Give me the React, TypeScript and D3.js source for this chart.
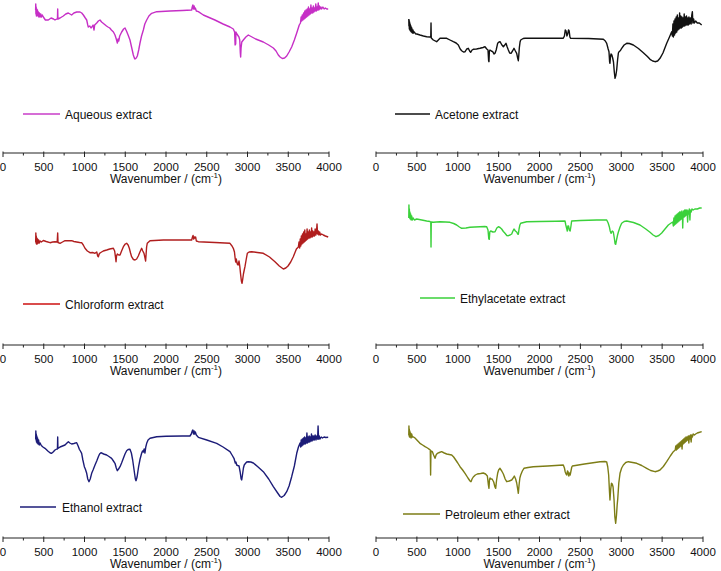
import React from "react";
import * as d3 from "d3";

// ---------- data ----------
const WAVENUMBER_TICKS = [0, 500, 1000, 1500, 2000, 2500, 3000, 3500, 4000];
const MINOR_TICKS = [250, 750, 1250, 1750, 2250, 2750, 3250, 3750];
const AXIS_TITLE = "Wavenumber / (cm";
const SERIES_NAMES = [
  "Aqueous extract",
  "Acetone extract",
  "Chloroform extract",
  "Ethylacetate extract",
  "Ethanol extract",
  "Petroleum ether extract",
];

// [wavenumber (cm-1), transmittance (a.u.)]
const aqueous: [number, number][] = [[400,140],[402,146],[404,136],[407,143],[410,134],[414,141],[418,135],[423,140],[428,134],[434,138],[440,133],[447,137],[455,133],[463,136],[472,133],[482,135],[495,133],[520,130],[556,130],[590,132],[620,131],[638,130],[660,131],[668,131],[671,141],[674,131],[700,132],[740,134],[770,136],[801,137],[842,135],[870,137],[904,138],[945,138],[966,137],[986,135],[1010,132],[1027,130],[1040,125],[1047,123],[1065,124],[1080,122],[1090,123],[1105,125],[1117,120],[1125,125],[1150,127],[1170,129],[1190,130],[1210,128],[1240,126],[1270,124],[1288,123],[1310,122],[1330,120],[1355,118],[1374,115],[1390,111],[1403,107],[1412,111],[1420,109],[1432,114],[1456,118],[1480,121],[1497,122],[1515,119],[1535,115],[1558,110],[1580,102],[1599,95],[1612,92],[1620,91],[1635,92],[1648,94],[1665,100],[1681,107],[1700,114],[1722,120],[1740,126],[1763,130],[1790,134],[1824,136.7],[1886,138.3],[2049,139],[2200,139.5],[2315,140],[2322,143],[2330,145],[2337,141],[2345,144],[2352,141],[2360,142],[2372,139],[2397,138.3],[2458,135],[2600,130],[2700,126],[2785,123],[2826,121],[2842,118],[2848,105],[2855,106],[2858,118],[2870,116],[2895,113],[2905,110],[2912,97],[2916,93],[2921,102],[2930,108],[2949,110],[2980,113],[3010,115],[3100,111],[3194,108],[3260,105],[3317,102],[3350,99],[3378,95],[3400,93],[3427,91.5],[3455,92],[3481,94],[3510,98],[3542,103],[3575,110],[3604,117],[3635,125],[3650,127],[3658,133],[3665,129],[3672,135],[3680,130],[3688,137],[3695,131],[3703,139],[3710,132],[3718,140],[3725,133],[3733,141],[3740,134],[3748,143],[3755,135],[3763,141],[3770,136],[3778,145],[3785,137],[3793,142],[3800,137],[3808,144],[3815,138],[3823,142],[3830,139],[3838,146],[3845,139],[3853,143],[3860,140],[3868,147],[3875,140],[3882,144],[3890,141],[3900,143],[3910,141],[3925,143],[3940,141],[3955,142],[3972,141],[3990,141]];

const acetone: [number, number][] = [[401,131],[403,124],[405,130],[408,121],[411,128],[414,120],[418,126],[422,119],[427,124],[432,118],[438,122],[445,117],[452,120],[460,117],[470,118],[485,116],[500,116],[538,115],[580,114],[620,113.3],[660,113],[670,113],[673,127],[676,112],[701,110],[742,108.3],[783,111.7],[825,111.7],[865,111.7],[905,110],[946,108.3],[980,107],[1007,105],[1030,101],[1048,99.3],[1070,98],[1090,98.3],[1110,101],[1129,101.7],[1145,99],[1158,97.7],[1175,100],[1190,100.7],[1230,101],[1272,101.7],[1310,102.5],[1333,103.3],[1355,101],[1370,100],[1378,89],[1382,88.3],[1387,99],[1394,100],[1410,99],[1427,98.3],[1445,96],[1456,96.7],[1470,100],[1488,106.7],[1505,108],[1517,108.3],[1540,105],[1558,103.3],[1575,105],[1590,106.7],[1605,103],[1619,100],[1635,97],[1652,96.7],[1670,99],[1688,101.7],[1705,99],[1721,96.7],[1733,92],[1741,89.3],[1747,95],[1753,102],[1762,108],[1770,110],[1800,111.5],[1823,111.7],[2000,111.7],[2291,111.7],[2305,114],[2315,120],[2325,119],[2335,114],[2345,116],[2355,120],[2363,119],[2372,113],[2381,111.7],[2600,111.5],[2781,110.7],[2805,109],[2822,106.7],[2840,101],[2850,98.3],[2858,88],[2862,86.7],[2868,93],[2875,96],[2885,95],[2895,92],[2905,88],[2915,78],[2924,71.7],[2935,75],[2944,80],[2955,90],[2965,97],[2973,98.3],[2990,99.5],[3005,101.7],[3035,105],[3067,106.7],[3100,106.5],[3148,105],[3210,101.5],[3270,97.3],[3320,93.5],[3352,90.7],[3385,89],[3413,88.3],[3445,89],[3474,91.7],[3510,97],[3556,106.7],[3590,113],[3617,118.3],[3625,114],[3632,126],[3638,113],[3645,129],[3652,115],[3658,131],[3665,117],[3672,133],[3679,118],[3686,135],[3693,120],[3700,132],[3707,121],[3714,137],[3721,122],[3728,134],[3735,122],[3742,133],[3749,123],[3756,132],[3763,124],[3770,136],[3777,124],[3784,133],[3791,125],[3798,134],[3805,125],[3812,132],[3820,125],[3828,133],[3836,126],[3845,132],[3855,126],[3863,135],[3870,138.3],[3876,127],[3885,131],[3895,127],[3910,129],[3930,127],[3955,127],[3984,125]];

const chloroform: [number, number][] = [[401,100],[403,109],[405,99],[408,106],[411,98],[415,104],[419,98],[424,103],[430,99],[437,102],[445,99],[455,101],[470,100],[495,101.5],[530,100.5],[577,99.3],[610,100],[638,100.3],[665,100],[671,109],[675,99.5],[700,98.7],[730,100],[761,101.3],[800,101.3],[843,101.3],[870,100.5],[904,100],[940,99.5],[965,99.3],[985,97],[1006,93.7],[1035,91],[1067,89.3],[1100,89.5],[1129,88.7],[1150,90],[1162,86],[1170,85.3],[1180,88],[1190,89],[1230,91],[1272,92],[1310,93],[1354,93.7],[1370,91],[1380,85],[1387,80.3],[1393,86],[1403,88],[1420,87],[1436,87],[1455,91],[1477,95.3],[1500,98],[1517,98.7],[1535,97],[1550,93.7],[1565,89],[1578,85.3],[1600,82.5],[1620,82],[1640,83],[1660,86],[1680,90],[1701,93.7],[1715,91],[1730,88.7],[1740,85],[1750,81],[1756,88],[1762,95],[1770,98.7],[1804,101.3],[1967,102],[2200,102],[2315,102],[2325,105],[2332,106.5],[2340,103],[2348,105],[2356,104],[2364,105],[2372,101],[2397,100.3],[2600,99.5],[2785,98.7],[2810,96],[2826,93.7],[2840,90],[2848,84],[2855,80],[2862,83],[2875,78],[2885,77],[2896,81],[2905,76],[2915,68],[2925,61],[2933,58.7],[2940,62],[2950,68],[2960,72],[2969,75.3],[2985,83],[2998,88.7],[3020,90],[3051,90.3],[3120,89.5],[3194,88.7],[3270,85],[3337,80.3],[3390,76],[3440,73],[3470,74],[3497,76],[3530,80],[3562,85.3],[3600,93],[3624,95],[3632,100],[3640,94],[3647,103],[3654,96],[3661,106],[3668,98],[3675,108],[3682,99],[3689,110],[3696,100],[3703,112],[3710,101],[3717,108],[3724,102],[3731,113],[3738,103],[3745,110],[3752,104],[3759,112],[3766,104],[3773,110],[3780,105],[3787,114],[3794,105],[3801,111],[3808,106],[3815,110],[3822,106],[3830,113],[3838,107],[3846,110],[3853,118],[3860,108],[3868,111],[3876,107],[3885,110],[3895,107],[3910,108],[3930,107],[3955,106],[3990,105]];

const ethylacetate: [number, number][] = [[401,124],[403,137],[405,126],[408,133],[411,124],[415,130],[419,123],[424,128],[430,122],[437,126],[445,122],[455,124],[470,122],[498,123],[560,122],[620,121],[660,120.5],[670,120],[673,95],[676,120],[701,119.7],[740,120],[783,120.3],[850,120],[905,119.7],[950,118.5],[987,117],[1020,115],[1048,113.7],[1100,114],[1150,114.7],[1210,115],[1272,115.3],[1330,115.5],[1354,115.3],[1370,112],[1380,103],[1386,102.7],[1392,110],[1403,111],[1430,110],[1456,110.3],[1478,114],[1497,115.3],[1517,114.5],[1537,113],[1558,110.5],[1578,108.7],[1600,106.5],[1619,106.3],[1640,107],[1660,108],[1675,111],[1688,113],[1705,111],[1721,110],[1733,108],[1741,107.7],[1750,113],[1760,117],[1770,118.7],[1843,120.3],[2000,120.5],[2200,120.8],[2312,121],[2322,117],[2332,113.7],[2340,111],[2347,116],[2355,116],[2365,112],[2375,111],[2385,116],[2393,121],[2500,121.5],[2700,122],[2822,122],[2840,119],[2854,115.3],[2865,111],[2875,108.7],[2890,111],[2903,110],[2915,104],[2925,98],[2932,97.7],[2942,102],[2955,107],[2965,110],[2985,115],[3005,118.7],[3035,120.5],[3067,121],[3150,119.5],[3229,117],[3300,113],[3352,109.7],[3390,107],[3425,105.3],[3460,106.5],[3495,109],[3535,113],[3576,117],[3610,119],[3630,120],[3637,116],[3644,124],[3651,117],[3658,126],[3665,118],[3672,127],[3679,119],[3686,128],[3693,120],[3700,129],[3707,121],[3714,130],[3721,122],[3728,130],[3735,123],[3742,131],[3749,124],[3752,114],[3756,126],[3763,131],[3770,125],[3777,132],[3784,126],[3791,132],[3798,127],[3805,132],[3812,120],[3818,131],[3825,128],[3832,133],[3840,122],[3846,132],[3855,130],[3865,133],[3880,132],[3900,133],[3930,133],[3960,134],[3984,134]];

const ethanol: [number, number][] = [[401,96],[403,104],[405,95],[408,101],[411,93],[415,99],[419,92],[424,97],[430,91],[437,95],[445,90],[455,92],[470,89.5],[490,88],[515,86.7],[550,84],[580,82],[597,81.7],[615,83],[638,85],[660,86],[668,86],[671,98],[674,86.5],[700,88],[730,89],[761,90],[785,92],[802,93.3],[820,92],[843,91],[870,91.5],[904,92.3],[922,89],[937,85.7],[950,84],[965,81.7],[980,75],[998,68.3],[1010,66],[1027,61.7],[1040,56],[1055,53.3],[1070,56],[1088,61.7],[1105,65],[1129,70],[1150,74],[1170,78.3],[1185,81],[1202,82.3],[1235,81],[1272,80],[1300,78.5],[1333,76.7],[1355,74],[1374,71.7],[1390,67],[1403,64.3],[1418,66],[1436,68.3],[1455,72],[1477,76.7],[1497,81],[1517,84.3],[1535,85.5],[1558,85.7],[1575,82],[1591,75],[1610,64],[1624,56],[1632,54.3],[1645,58],[1664,68.3],[1682,76],[1701,81.7],[1712,84],[1722,83],[1732,86],[1742,82],[1752,88],[1763,91.7],[1780,95],[1804,96.7],[1886,98.3],[2000,98.7],[2200,99],[2294,99],[2310,101],[2322,104],[2330,105],[2337,101],[2345,104],[2352,101],[2360,103],[2372,100],[2397,97.7],[2500,95],[2622,91.7],[2700,88],[2785,83.3],[2810,80],[2834,76.7],[2850,72],[2858,73],[2867,70],[2880,69.5],[2896,69],[2910,63],[2922,56],[2929,55],[2938,60],[2950,67],[2960,70],[2969,71],[2990,73],[3010,73.3],[3040,73],[3072,72],[3130,68],[3194,63.3],[3260,56],[3317,48.3],[3370,42],[3400,38.5],[3419,37.7],[3450,39.5],[3481,43.3],[3510,49],[3542,58.3],[3575,69],[3604,81.7],[3625,88],[3645,92],[3652,88],[3659,95],[3666,89],[3673,96],[3680,90],[3687,97],[3694,91],[3701,98],[3708,91],[3715,97],[3722,92],[3729,102],[3736,92],[3743,98],[3750,93],[3757,99],[3764,93],[3771,98],[3778,94],[3785,101],[3792,94],[3799,99],[3806,95],[3813,99],[3820,95],[3830,100],[3840,95],[3850,99],[3860,96],[3866,109],[3872,96],[3880,99],[3890,96],[3905,98],[3920,97],[3940,98],[3960,97.5],[3990,97.7]];

const petroleum: [number, number][] = [[401,100],[403,109],[405,99],[407,106],[410,98],[414,104],[418,98],[423,102],[429,97],[436,101],[445,98],[460,98],[477,97],[500,95],[538,91.7],[570,90],[600,88.3],[630,87],[653,85.7],[664,85],[668,60],[672,84],[690,83.3],[705,80],[722,76.7],[735,80],[750,81.7],[775,82.5],[803,83.3],[835,82],[865,81],[895,80.5],[926,80],[950,78],[967,76],[1000,72],[1028,68.3],[1060,65],[1089,61.7],[1125,57],[1150,54],[1162,53.3],[1175,56],[1190,58],[1215,60],[1239,61],[1280,61.5],[1312,62],[1340,61],[1362,59],[1375,50],[1382,46.7],[1388,55],[1395,57],[1403,56],[1420,56],[1440,53],[1455,48],[1464,46.7],[1475,55],[1488,61.7],[1500,65],[1517,66.7],[1538,64],[1558,61],[1580,56],[1599,53.3],[1630,54],[1660,55],[1678,57],[1692,59],[1708,56],[1721,52],[1733,46],[1741,41.7],[1750,50],[1760,57],[1770,60],[1790,64],[1810,66.7],[1860,67.5],[1924,68.3],[2100,69],[2291,70],[2305,67],[2315,63],[2325,61],[2335,60],[2342,64],[2350,63],[2358,59],[2365,62],[2375,60],[2385,64],[2395,68],[2402,69],[2550,71],[2740,73.3],[2800,73.5],[2822,73],[2835,68],[2846,60],[2855,45],[2862,35],[2870,45],[2880,51.7],[2890,51],[2900,48],[2912,35],[2922,18],[2932,11.7],[2942,20],[2950,30],[2957,36],[2970,52],[2985,61.7],[3005,67],[3026,70],[3055,72.5],[3087,73.3],[3140,72.5],[3189,71.7],[3250,69.5],[3311,66.7],[3360,64.5],[3413,63.3],[3445,64],[3474,65],[3515,68.5],[3556,73.3],[3600,79],[3637,83.3],[3660,85],[3667,89],[3674,85],[3681,90],[3688,86],[3695,91],[3702,87],[3709,92],[3716,88],[3723,93],[3730,89],[3737,94],[3744,86],[3750,95],[3757,91],[3764,96],[3771,92],[3778,97],[3785,93],[3792,98],[3799,94],[3806,98],[3813,95],[3820,99],[3827,92],[3833,99],[3840,96],[3847,100],[3855,93],[3862,100],[3870,98],[3880,101],[3895,100],[3910,101],[3930,102],[3950,102.5],[3984,103.3]];

const SERIES = [aqueous, acetone, chloroform, ethylacetate, ethanol, petroleum];
const COLORS = ["#c62fc6", "#111111", "#b01e1e", "#3ad13a", "#1c1c78", "#7d7d16"];
const LEGEND_COLORS = ["#c83cc8", "#111111", "#cc1111", "#3ad13a", "#1c1c78", "#7d7d16"];

// ---------- layout ----------
const W = 721;
const H = 571;
const COL_X: [number, number][] = [[3, 329], [376, 703]];
const AXIS_Y = [153, 345, 538];
// legend: [lineStart, lineEnd, y, textX]
const LEGEND_POS: [number, number, number, number][] = [
  [23, 60, 114, 65],
  [395, 430, 114, 435],
  [23, 60, 304, 65],
  [420, 455, 298, 460],
  [20, 56, 507, 62],
  [403, 440, 514, 445],
];

const FONT = "Arial, 'Liberation Sans', Helvetica, sans-serif";

function Panel({ idx }: { idx: number }) {
  const col = idx % 2;
  const row = Math.floor(idx / 2);
  const axisY = AXIS_Y[row];
  const top = axisY - 153;
  const x = d3.scaleLinear().domain([0, 4000]).range(COL_X[col]);
  const y = d3.scaleLinear().domain([0, 150]).range([top + 150, top]);
  const line = d3
    .line<[number, number]>()
    .x((d) => x(d[0]))
    .y((d) => y(d[1]));
  const [lx1, lx2, ly, tx] = LEGEND_POS[idx];
  const color = COLORS[idx];
  const mid = (COL_X[col][0] + COL_X[col][1]) / 2;
  return (
    <g>
      <path d={line(SERIES[idx]) || ""} fill="none" stroke={color} strokeWidth={1.4} strokeLinejoin="round" />
      <line x1={lx1} x2={lx2} y1={ly} y2={ly} stroke={LEGEND_COLORS[idx]} strokeWidth={1.3} />
      <text x={tx} y={ly + 4.5} fontSize={12} fill="#111">{SERIES_NAMES[idx]}</text>
      <line x1={x(0)} x2={x(4000)} y1={axisY} y2={axisY} stroke="#222" strokeWidth={1} />
      {WAVENUMBER_TICKS.map((t) => (
        <g key={t}>
          <line x1={x(t)} x2={x(t)} y1={axisY - 1.5} y2={axisY + 4} stroke="#222" strokeWidth={1} />
          <text x={x(t)} y={axisY + 17.5} fontSize={11.5} textAnchor="middle" fill="#111">{t}</text>
        </g>
      ))}
      {MINOR_TICKS.map((t) => (
        <line key={t} x1={x(t)} x2={x(t)} y1={axisY} y2={axisY + 2.5} stroke="#222" strokeWidth={1} />
      ))}
      <text x={mid} y={axisY + 30} fontSize={12} textAnchor="middle" fill="#111">
        {AXIS_TITLE}
        <tspan dy={-5} fontSize={8}>-1</tspan>
        <tspan dy={5}>)</tspan>
      </text>
    </g>
  );
}

export default function App() {
  return (
    <svg
      width={W}
      height={H}
      style={{ position: "absolute", left: 0, top: 0, background: "#fff" }}
      fontFamily={FONT}
    >
      <rect x={0} y={0} width={W} height={H} fill="#fff" />
      {SERIES.map((_, i) => (
        <Panel key={i} idx={i} />
      ))}
    </svg>
  );
}
